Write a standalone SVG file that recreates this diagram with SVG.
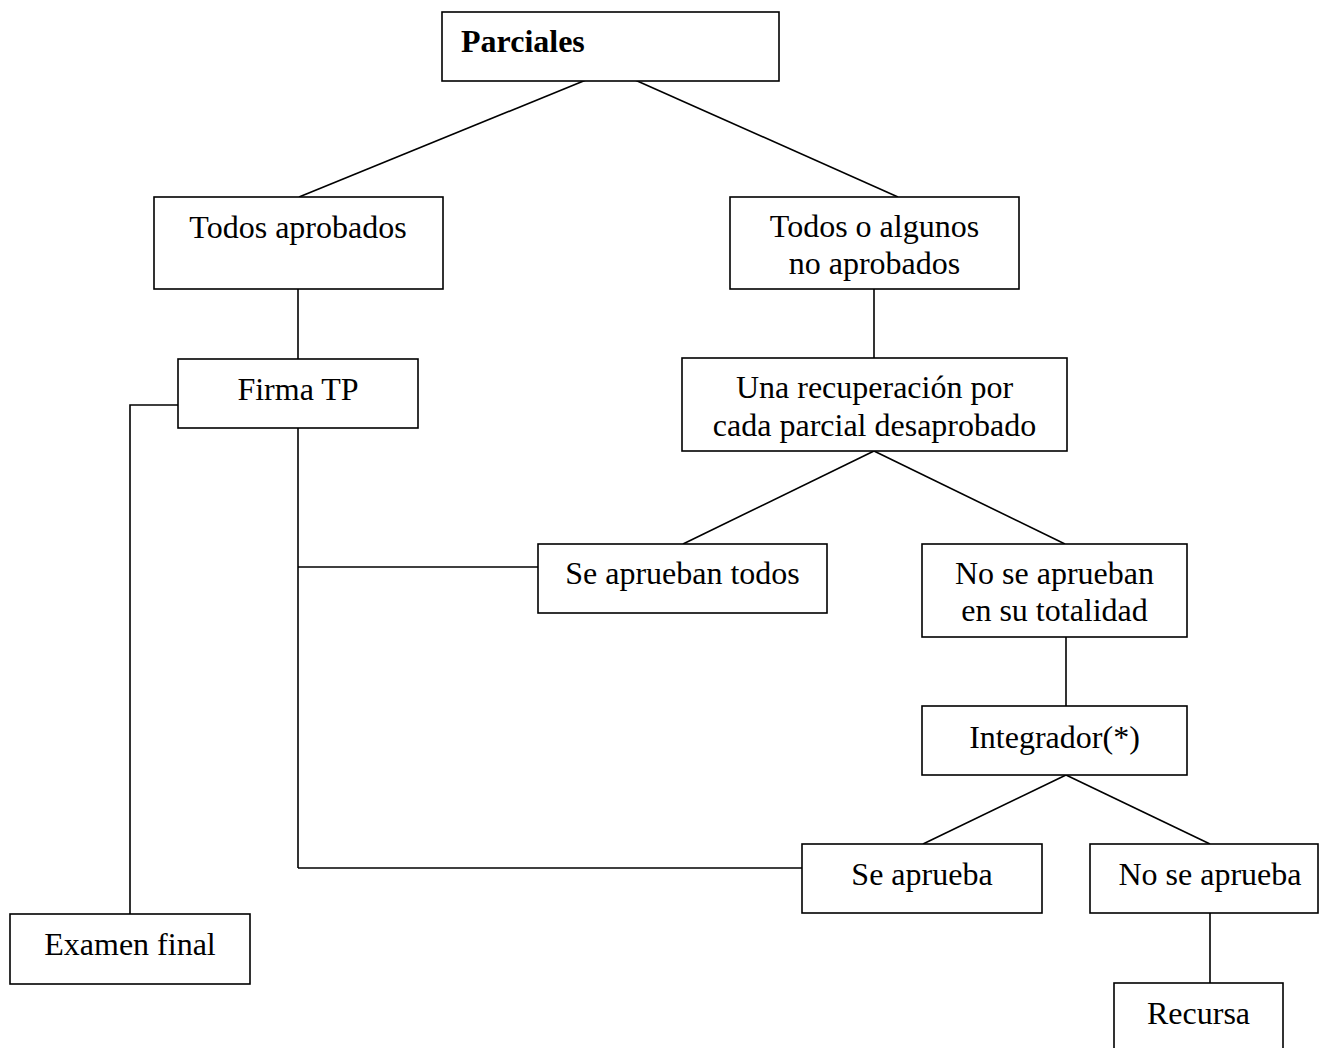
<svg xmlns="http://www.w3.org/2000/svg" width="1320" height="1048" viewBox="0 0 1320 1048">
<style>
rect{fill:#fff;stroke:#000;stroke-width:1.6}
line,polyline{stroke:#000;stroke-width:1.6;fill:none}
text{font-family:"Liberation Serif","Times New Roman",serif;font-size:32px;fill:#000;text-anchor:middle}
.b{font-weight:bold;text-anchor:start}
</style>
<rect x="0" y="0" width="1320" height="1048" style="fill:#fff;stroke:none"/>
<g id="connectors">
<line x1="586" y1="80" x2="299" y2="197"/>
<line x1="635" y1="80" x2="898" y2="197"/>
<line x1="298" y1="289" x2="298" y2="359"/>
<line x1="874" y1="289" x2="874" y2="358"/>
<line x1="874" y1="451" x2="683" y2="544"/>
<line x1="874" y1="451" x2="1065" y2="544"/>
<line x1="1066" y1="637" x2="1066" y2="706"/>
<line x1="1066" y1="775" x2="923" y2="844"/>
<line x1="1066" y1="775" x2="1210" y2="844"/>
<line x1="1210" y1="913" x2="1210" y2="983"/>
<polyline points="178,405 130,405 130,914"/>
<line x1="298" y1="428" x2="298" y2="868"/>
<line x1="298" y1="567" x2="538" y2="567"/>
<line x1="298" y1="868" x2="802" y2="868"/>
</g>
<g id="n-parciales"><rect x="442" y="12" width="337" height="69"/><text class="b" x="461" y="52">Parciales</text></g>
<g id="n-todos-aprobados"><rect x="154" y="197" width="289" height="92"/><text x="298" y="238">Todos aprobados</text></g>
<g id="n-todos-algunos"><rect x="730" y="197" width="289" height="92"/><text x="874.5" y="237">Todos o algunos</text><text x="874.5" y="274">no aprobados</text></g>
<g id="n-firma-tp"><rect x="178" y="359" width="240" height="69"/><text x="298" y="400">Firma TP</text></g>
<g id="n-recuperacion"><rect x="682" y="358" width="385" height="93"/><text x="874.5" y="398">Una recuperación por</text><text x="874.5" y="436">cada parcial desaprobado</text></g>
<g id="n-se-aprueban-todos"><rect x="538" y="544" width="289" height="69"/><text x="682.5" y="584">Se aprueban todos</text></g>
<g id="n-no-se-aprueban"><rect x="922" y="544" width="265" height="93"/><text x="1054.5" y="584">No se aprueban</text><text x="1054.5" y="621">en su totalidad</text></g>
<g id="n-integrador"><rect x="922" y="706" width="265" height="69"/><text x="1054.5" y="748">Integrador(*)</text></g>
<g id="n-se-aprueba"><rect x="802" y="844" width="240" height="69"/><text x="922" y="885">Se aprueba</text></g>
<g id="n-no-se-aprueba"><rect x="1090" y="844" width="228" height="69"/><text x="1210" y="885">No se aprueba</text></g>
<g id="n-recursa"><rect x="1114" y="983" width="169" height="80"/><text x="1198.5" y="1024">Recursa</text></g>
<g id="n-examen-final"><rect x="10" y="914" width="240" height="70"/><text x="130" y="955">Examen final</text></g>
</svg>
